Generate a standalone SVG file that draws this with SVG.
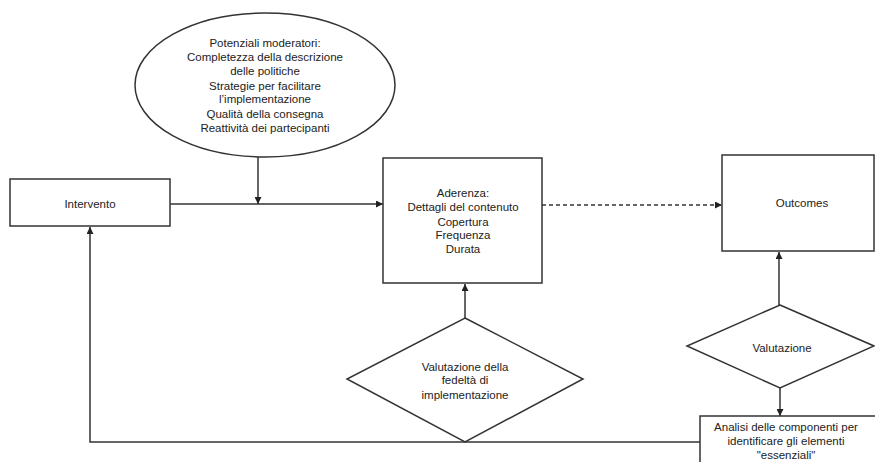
<svg xmlns="http://www.w3.org/2000/svg" width="875" height="462" viewBox="0 0 875 462">
<defs>
<style>
.s{fill:#fff;stroke:#333;stroke-width:1.5}
.l{fill:none;stroke:#333;stroke-width:1.5}
.d{stroke-dasharray:4 3}
text{font-family:"Liberation Sans",Arial,sans-serif;font-size:11.5px;fill:#222;text-anchor:middle}
</style>
<marker id="a" viewBox="0 0 10 10" refX="10" refY="5" markerWidth="7" markerHeight="7" markerUnits="userSpaceOnUse" orient="auto"><path d="M0,0L10,5L0,10z" fill="#222"/></marker>
</defs>
<rect width="875" height="462" fill="#fff"/>
<g id="connectors">
<path class="l" d="M258,157V204" marker-end="url(#a)"/>
<path class="l" d="M170,204H383" marker-end="url(#a)"/>
<path class="l d" d="M542,205H722" marker-end="url(#a)"/>
<path class="l" d="M465,318V284" marker-end="url(#a)"/>
<path class="l" d="M779,305V252" marker-end="url(#a)"/>
<path class="l" d="M780,388V416" marker-end="url(#a)"/>
<path class="l" d="M700,442H90V227" marker-end="url(#a)"/>
</g>
<g id="moderatori">
<ellipse class="s" cx="265" cy="85" rx="130" ry="72"/>
<text x="265" y="47">Potenziali moderatori:</text>
<text x="265" y="61">Completezza della descrizione</text>
<text x="265" y="75">delle politiche</text>
<text x="265" y="90">Strategie per facilitare</text>
<text x="265" y="103">l’implementazione</text>
<text x="265" y="118">Qualità della consegna</text>
<text x="265" y="132">Reattività dei partecipanti</text>
</g>
<g id="intervento">
<rect class="s" x="10" y="179" width="160" height="47"/>
<text x="90" y="208">Intervento</text>
</g>
<g id="aderenza">
<rect class="s" x="383" y="158" width="159" height="125"/>
<text x="463" y="197">Aderenza:</text>
<text x="463" y="211">Dettagli del contenuto</text>
<text x="463" y="226">Copertura</text>
<text x="463" y="239">Frequenza</text>
<text x="463" y="253">Durata</text>
</g>
<g id="outcomes">
<rect class="s" x="722" y="155" width="152" height="96"/>
<text x="802" y="207">Outcomes</text>
</g>
<g id="fedelta">
<path class="s" d="M465,318L583,379L465,442L347,379Z"/>
<text x="465" y="371">Valutazione della</text>
<text x="465" y="384">fedeltà di</text>
<text x="465" y="399">implementazione</text>
</g>
<g id="valutazione">
<path class="s" d="M780,305L874,346L780,388L687,346Z"/>
<text x="782" y="352">Valutazione</text>
</g>
<g id="analisi">
<rect class="s" x="700" y="416" width="180" height="60"/>
<text x="786" y="431">Analisi delle componenti per</text>
<text x="786" y="445">identificare gli elementi</text>
<text x="786" y="459" font-size="11">"essenziali"</text>
</g>
</svg>
